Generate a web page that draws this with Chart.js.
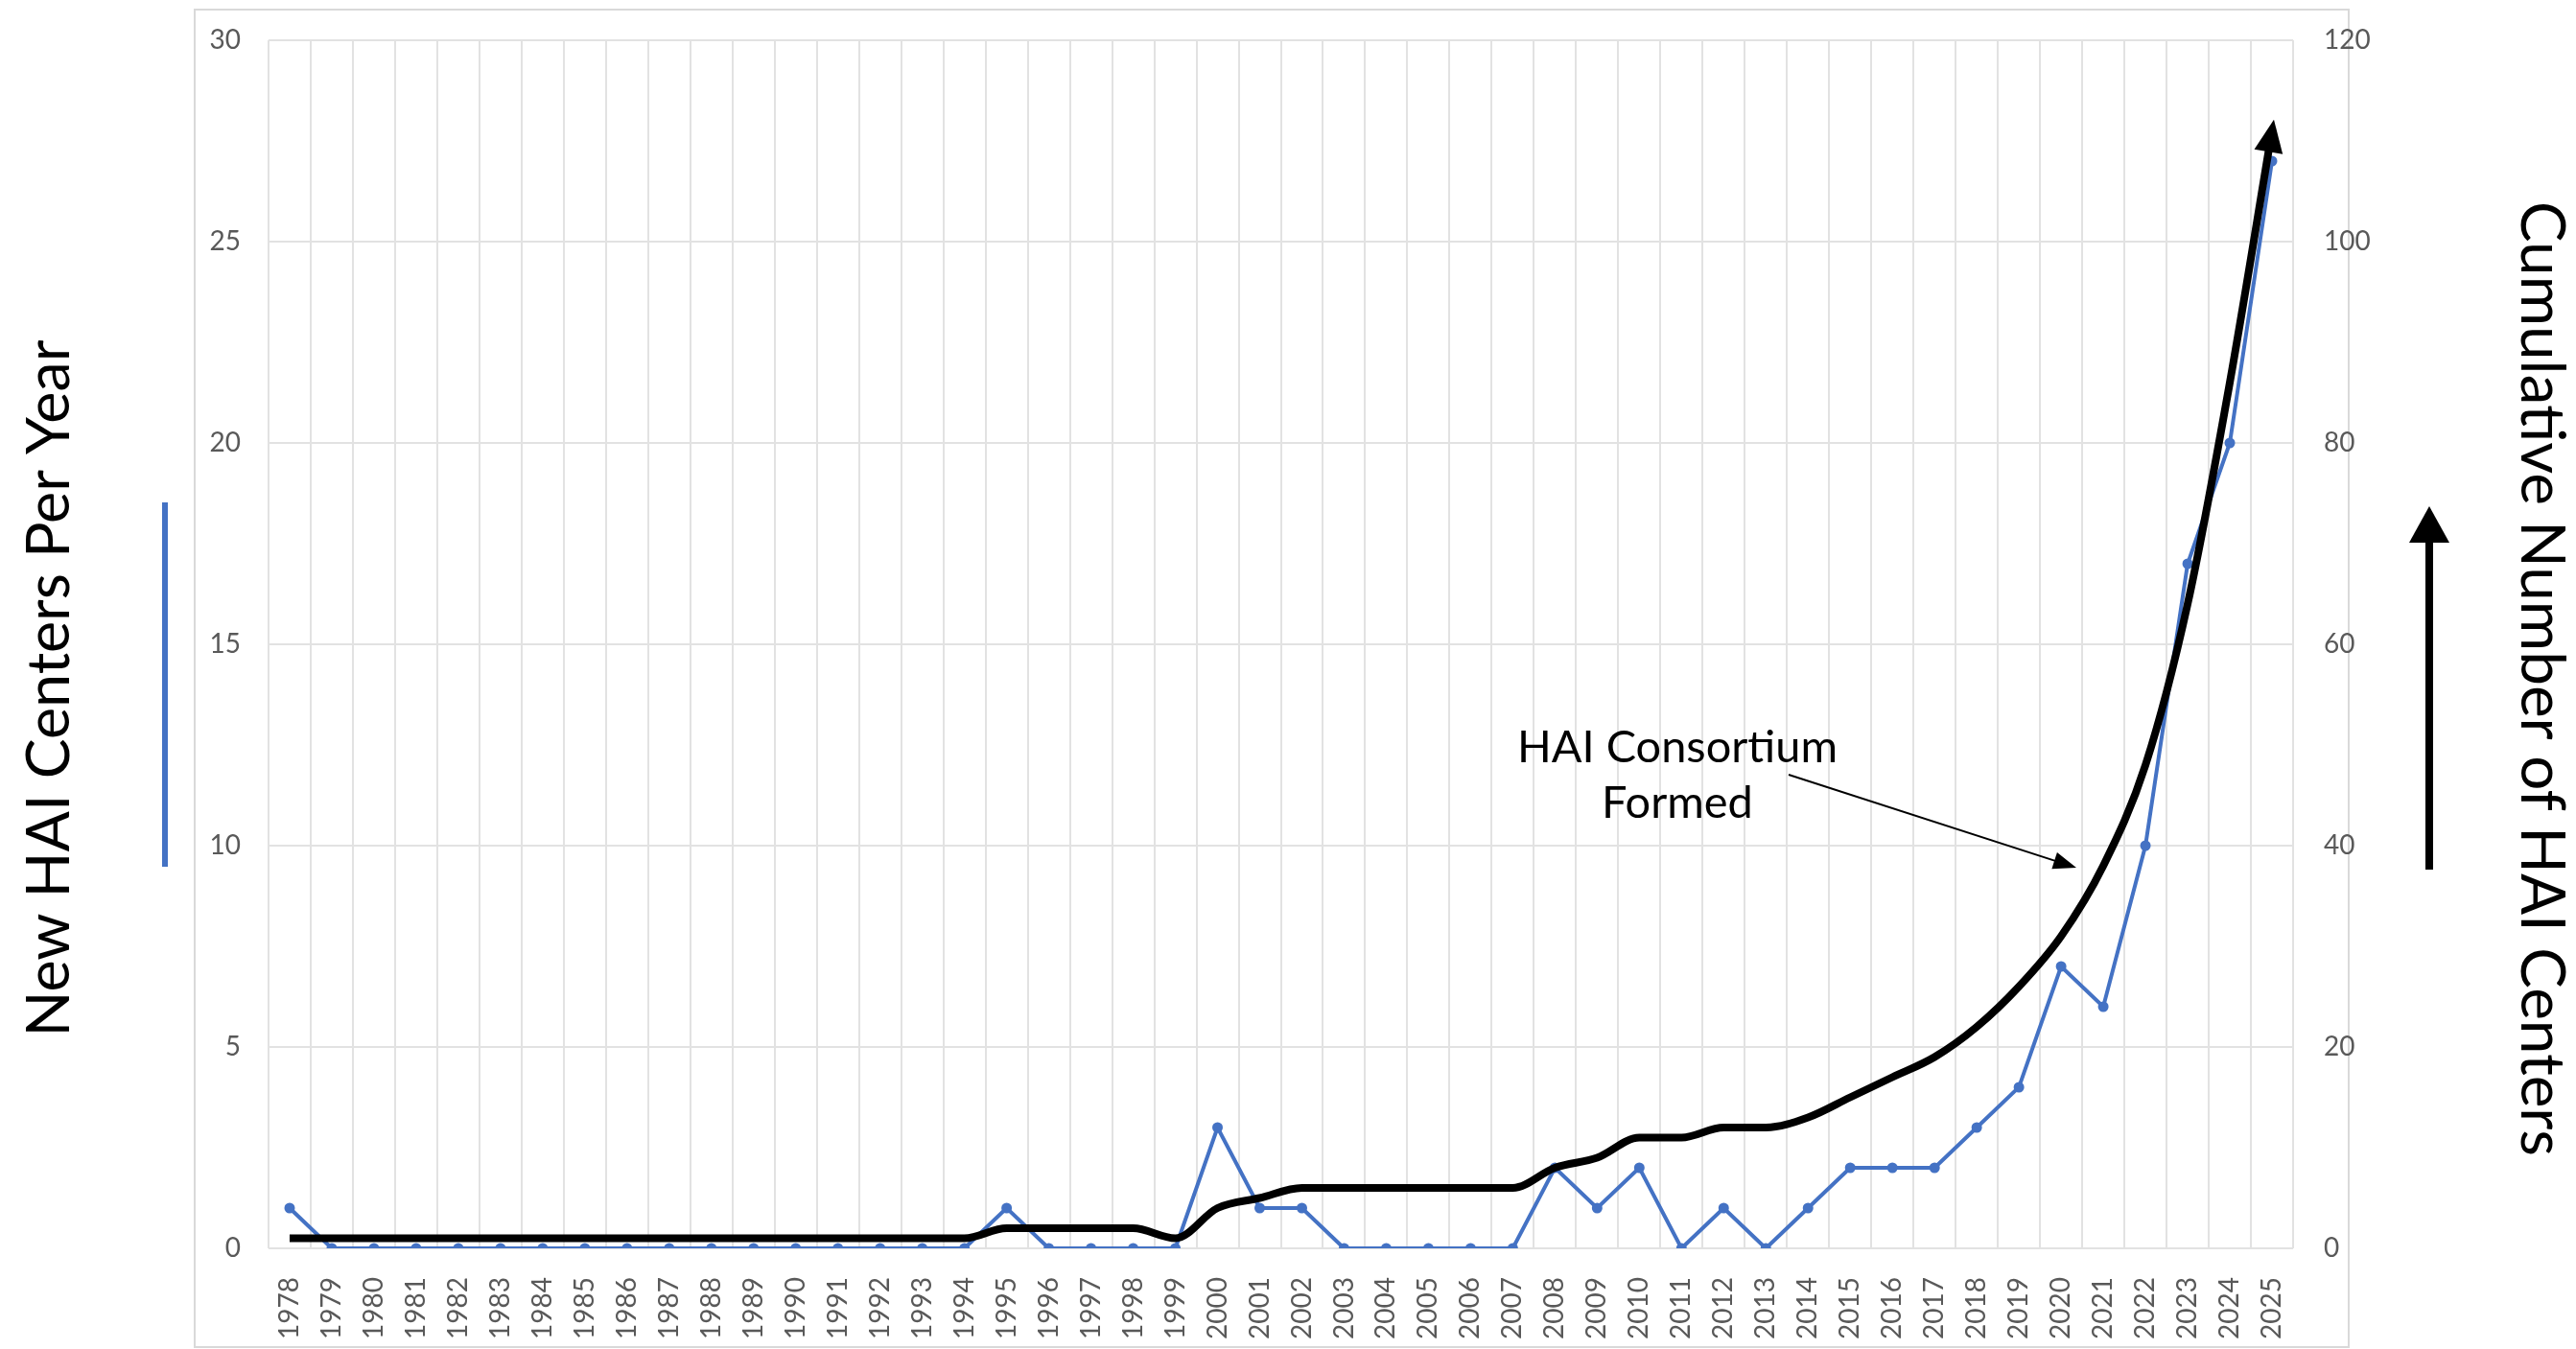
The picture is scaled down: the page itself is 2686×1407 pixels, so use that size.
<!DOCTYPE html>
<html>
<head>
<meta charset="utf-8">
<title>HAI Centers</title>
<script src="https://cdn.jsdelivr.net/npm/chart.js@4.4.1/dist/chart.umd.min.js"></script>
<style>
  html, body { margin: 0; padding: 0; background: #fff; }
  #wrap { width: 2686px; height: 1407px; }
</style>
</head>
<body>
<div id="wrap"><canvas id="haiChart" width="2686" height="1407"></canvas></div>
<script>
const years = ['1978', '1979', '1980', '1981', '1982', '1983', '1984', '1985', '1986', '1987',
    '1988', '1989', '1990', '1991', '1992', '1993', '1994', '1995', '1996', '1997',
    '1998', '1999', '2000', '2001', '2002', '2003', '2004', '2005', '2006', '2007',
    '2008', '2009', '2010', '2011', '2012', '2013', '2014', '2015', '2016', '2017',
    '2018', '2019', '2020', '2021', '2022', '2023', '2024', '2025'];

// new centers per year (left axis)
const newCenters = [1, 0, 0, 0, 0, 0, 0, 0, 0, 0,
    0, 0, 0, 0, 0, 0, 0, 1, 0, 0,
    0, 0, 3, 1, 1, 0, 0, 0, 0, 0,
    2, 1, 2, 0, 1, 0, 1, 2, 2, 2,
    3, 4, 7, 6, 10, 17, 20, 27];

// cumulative number of centers (right axis)
const cumulativeCenters = [1, 1, 1, 1, 1, 1, 1, 1, 1, 1,
    1, 1, 1, 1, 1, 1, 1, 2, 2, 2,
    2, 1, 4, 5, 6, 6, 6, 6, 6, 6,
    8, 9, 11, 11, 12, 12, 13, 15, 17, 19,
    22, 26, 31, 38, 48, 64, 86, 111];

const leftTicks = [0, 5, 10, 15, 20, 25, 30];
const rightTicks = [0, 20, 40, 60, 80, 100, 120];

const leftTitle = 'New HAI Centers Per Year';
const rightTitle = 'Cumulative Number of HAI Centers';
const noteLines = ['HAI Consortium', 'Formed'];

const blue = '#4472C4';
const gridColor = '#e2e2e2';
const tickColor = '#595959';
const tickFont = { family: 'Lato', size: 28 };

function fitSize(ctx, text, width) {
    ctx.font = '100px Lato';
    return 100 * width / ctx.measureText(text).width;
}

function drawText(ctx, text, x, y, size, angle, align) {
    ctx.save();
    ctx.translate(x, y);
    ctx.rotate(angle);
    ctx.font = size + 'px Lato';
    ctx.fillStyle = '#000';
    ctx.textAlign = align || 'center';
    ctx.textBaseline = 'alphabetic';
    ctx.fillText(text, 0, 0);
    ctx.restore();
}

function arrowHead(ctx, tipX, tipY, dx, dy, len, half) {
    const bx = tipX - dx * len, by = tipY - dy * len;
    ctx.beginPath();
    ctx.moveTo(tipX, tipY);
    ctx.lineTo(bx - dy * half, by + dx * half);
    ctx.lineTo(bx + dy * half, by - dx * half);
    ctx.closePath();
    ctx.fill();
}

// fixed axis sizes so the plot area sits where the original one does
function fixWidth(w) {
    return s => {
        s.width = w;
        s.paddingTop = 0;
        s.paddingBottom = 0;
    };
}

const decorations = {
    id: 'decorations',
    beforeDraw(chart) {
        const ctx = chart.ctx;
        ctx.save();
        ctx.fillStyle = '#fff';
        ctx.fillRect(0, 0, chart.width, chart.height);
        ctx.strokeStyle = '#d9d9d9';
        ctx.lineWidth = 2;
        ctx.strokeRect(203, 10, 2246, 1395);
        ctx.restore();
    },
    afterDatasetsDraw(chart) {
        // arrow head at the end of the cumulative line
        const ctx = chart.ctx;
        const pts = chart.getDatasetMeta(0).data;
        const p = pts[pts.length - 1];
        const q = pts[pts.length - 2];
        let dx = p.x - (p.cp1x !== undefined ? p.cp1x : q.x);
        let dy = p.y - (p.cp1y !== undefined ? p.cp1y : q.y);
        const n = Math.hypot(dx, dy);
        dx /= n; dy /= n;
        ctx.save();
        ctx.fillStyle = '#000';
        arrowHead(ctx, p.x + dx * 12, p.y + dy * 12, dx, dy, 34, 15);
        ctx.restore();
    },
    afterDraw(chart) {
        const ctx = chart.ctx;
        ctx.save();

        // axis titles
        drawText(ctx, leftTitle, 72, 718, fitSize(ctx, leftTitle, 727), -Math.PI / 2);
        drawText(ctx, rightTitle, 2629, 708, fitSize(ctx, rightTitle, 996), Math.PI / 2);

        // blue marker next to left title
        ctx.fillStyle = blue;
        ctx.fillRect(169, 524, 6, 380);

        // black arrow next to right title
        ctx.fillStyle = '#000';
        ctx.fillRect(2529, 560, 8, 347);
        arrowHead(ctx, 2533, 528, 0, -1, 38, 21);

        // annotation
        const s = fitSize(ctx, noteLines[0], 334);
        drawText(ctx, noteLines[0], 1749, 795, s, 0);
        drawText(ctx, noteLines[1], 1749, 853, s, 0);
        ctx.strokeStyle = '#000';
        ctx.lineWidth = 2;
        const x0 = 1865, y0 = 808, x1 = 2165, y1 = 905;
        const len = Math.hypot(x1 - x0, y1 - y0);
        const ux = (x1 - x0) / len, uy = (y1 - y0) / len;
        ctx.beginPath();
        ctx.moveTo(x0, y0);
        ctx.lineTo(x1 - ux * 15, y1 - uy * 15);
        ctx.stroke();
        ctx.fillStyle = '#000';
        arrowHead(ctx, x1, y1, ux, uy, 24, 9);

        ctx.restore();
    }
};

new Chart(document.getElementById('haiChart'), {
    type: 'line',
    data: {
        labels: years,
        datasets: [{
            label: 'Cumulative Number of HAI Centers',
            data: cumulativeCenters,
            yAxisID: 'y2',
            borderColor: '#000',
            borderWidth: 8,
            pointRadius: 0,
            cubicInterpolationMode: 'monotone',
            borderCapStyle: 'butt',
            borderJoinStyle: 'round'
        }, {
            label: 'New HAI Centers Per Year',
            data: newCenters,
            yAxisID: 'y',
            borderColor: blue,
            backgroundColor: blue,
            borderWidth: 4,
            pointRadius: 5.5,
            pointBorderWidth: 0,
            pointBackgroundColor: blue,
            tension: 0
        }]
    },
    options: {
        responsive: false,
        animation: false,
        devicePixelRatio: 1,
        layout: { padding: { top: 42, left: 0, right: 0, bottom: 0 } },
        plugins: {
            legend: { display: false },
            tooltip: { enabled: false }
        },
        scales: {
            x: {
                offset: true,
                grid: { offset: true, color: gridColor, lineWidth: 2, drawTicks: false },
                border: { display: false },
                ticks: {
                    autoSkip: false, minRotation: 90, maxRotation: 90,
                    padding: 30, color: tickColor, font: tickFont
                },
                afterFit: s => { s.height = 105; }
            },
            y: {
                position: 'left',
                min: 0,
                max: 30,
                afterBuildTicks: s => { s.ticks = leftTicks.map(v => ({ value: v })); },
                grid: { color: gridColor, lineWidth: 2, drawTicks: false },
                border: { display: false },
                ticks: { padding: 29, color: tickColor, font: tickFont },
                afterFit: fixWidth(280)
            },
            y2: {
                position: 'right',
                min: 0,
                max: 120,
                afterBuildTicks: s => { s.ticks = rightTicks.map(v => ({ value: v })); },
                grid: { display: false, drawTicks: false },
                border: { display: false },
                ticks: { padding: 32, color: tickColor, font: tickFont },
                afterFit: fixWidth(295)
            }
        }
    },
    plugins: [decorations]
});
</script>
</body>
</html>
